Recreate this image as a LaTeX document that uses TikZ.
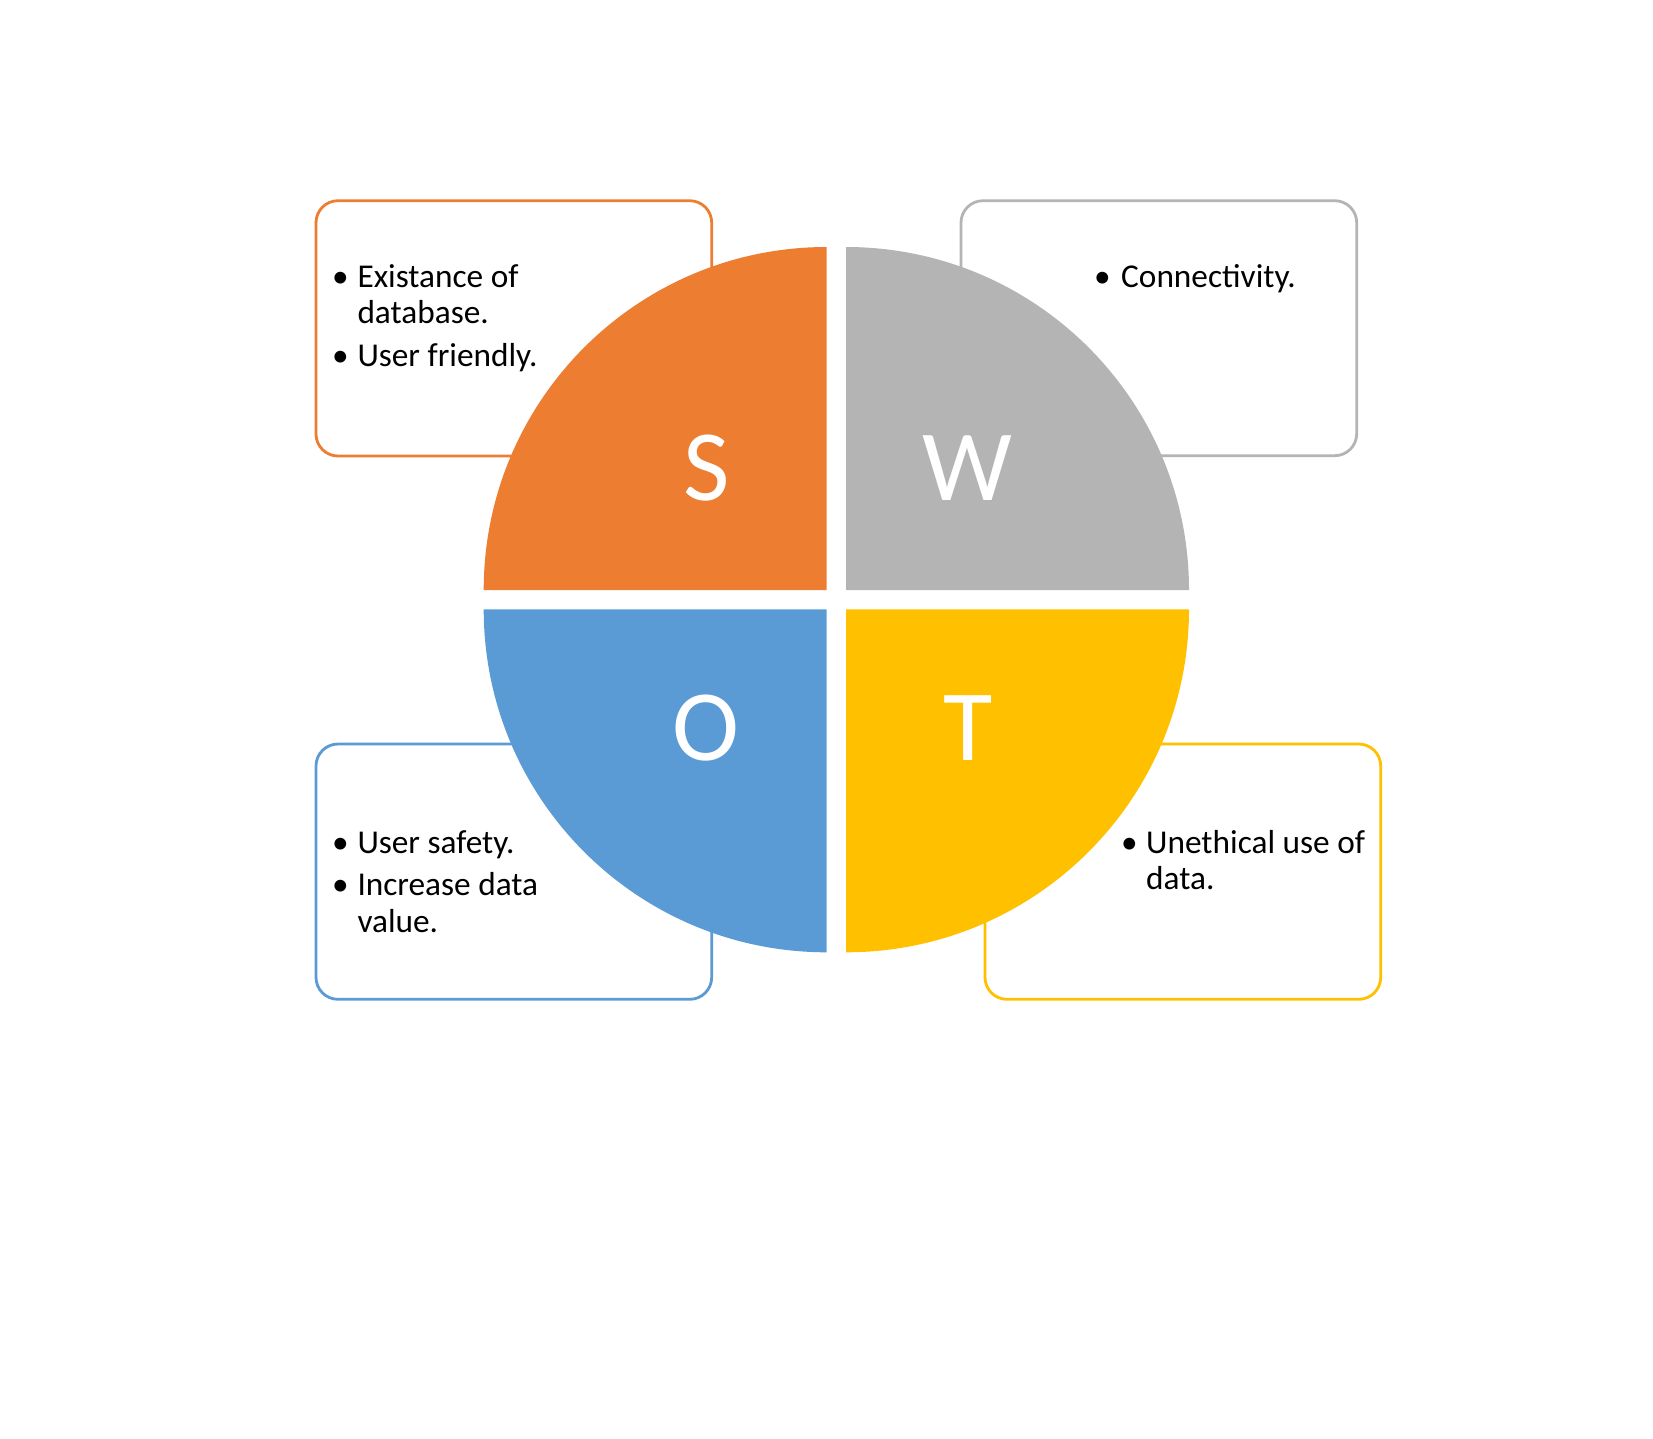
\documentclass[tikz,border=0pt]{standalone}
\usepackage{fontspec}
\setmainfont{Carlito}
\definecolor{strengthC}{HTML}{ED7D31}
\definecolor{weakC}{HTML}{B4B4B4}
\definecolor{opportC}{HTML}{5B9BD5}
\definecolor{threatC}{HTML}{FFC000}
\begin{document}
\begin{tikzpicture}[x=1pt,y=-1pt,
  itembox/.style={line width=2.8pt, rounded corners=22pt, fill=white},
  item/.style={anchor=base west, inner sep=0pt, font=\fontsize{33.3}{36}\selectfont},
  dot/.style={anchor=base, inner sep=0pt, font=\fontsize{33.3}{36}\selectfont},
  letter/.style={anchor=base, inner sep=0pt, text=white, font=\fontsize{101}{110}\selectfont}]
\useasboundingbox (0,0) rectangle (1653,1438);

% text boxes behind the circle
\draw[itembox, draw=strengthC] (316,200.7) rectangle (711.7,456);
\draw[itembox, draw=weakC]     (961,200.7) rectangle (1356.7,455.7);
\draw[itembox, draw=opportC]   (316,744) rectangle (711.7,999.3);
\draw[itembox, draw=threatC]   (985,744) rectangle (1380.7,999.3);

% four quarters of the circle
\fill[strengthC] (826.7,590) -- ++(-343,0) arc[start angle=180, end angle=270, radius=343] -- cycle;
\fill[weakC]     (846,590) -- ++(343,0) arc[start angle=0, end angle=-90, radius=343] -- cycle;
\fill[opportC]   (826.7,609.3) -- ++(-343,0) arc[start angle=180, end angle=90, radius=343] -- cycle;
\fill[threatC]   (846,609.3) -- ++(343,0) arc[start angle=0, end angle=90, radius=343] -- cycle;

% letters
\node[letter] (S) at (706.7,500) {S};
\node[letter] (W) at (967.5,500) {W};
\node[letter] (O) at (706.2,760) {O};
\node[letter] (T) at (967.7,760) {T};

% strengths
\node[dot]  (s1b) at (340.5,287) {•};
\node[item] (s1a) at (357.3,287) {Existance of};
\node[item] (s1c) at (357.3,323.5) {database.};
\node[dot]  (s2b) at (340.5,366.5) {•};
\node[item] (s2a) at (357.3,366.5) {User friendly.};

% weaknesses
\node[dot]  (w1b) at (1102.5,287) {•};
\node[item] (w1a) at (1121,287) {Connectivity.};

% opportunities
\node[dot]  (o1b) at (340.5,853) {•};
\node[item] (o1a) at (357.3,853) {User safety.};
\node[dot]  (o2b) at (340.5,895) {•};
\node[item] (o2a) at (357.3,895) {Increase data};
\node[item] (o2c) at (357.3,932) {value.};

% threats
\node[dot]  (t1b) at (1129.5,853) {•};
\node[item] (t1a) at (1146,853) {Unethical use of};
\node[item] (t1c) at (1146,889) {data.};
\end{tikzpicture}
\end{document}
